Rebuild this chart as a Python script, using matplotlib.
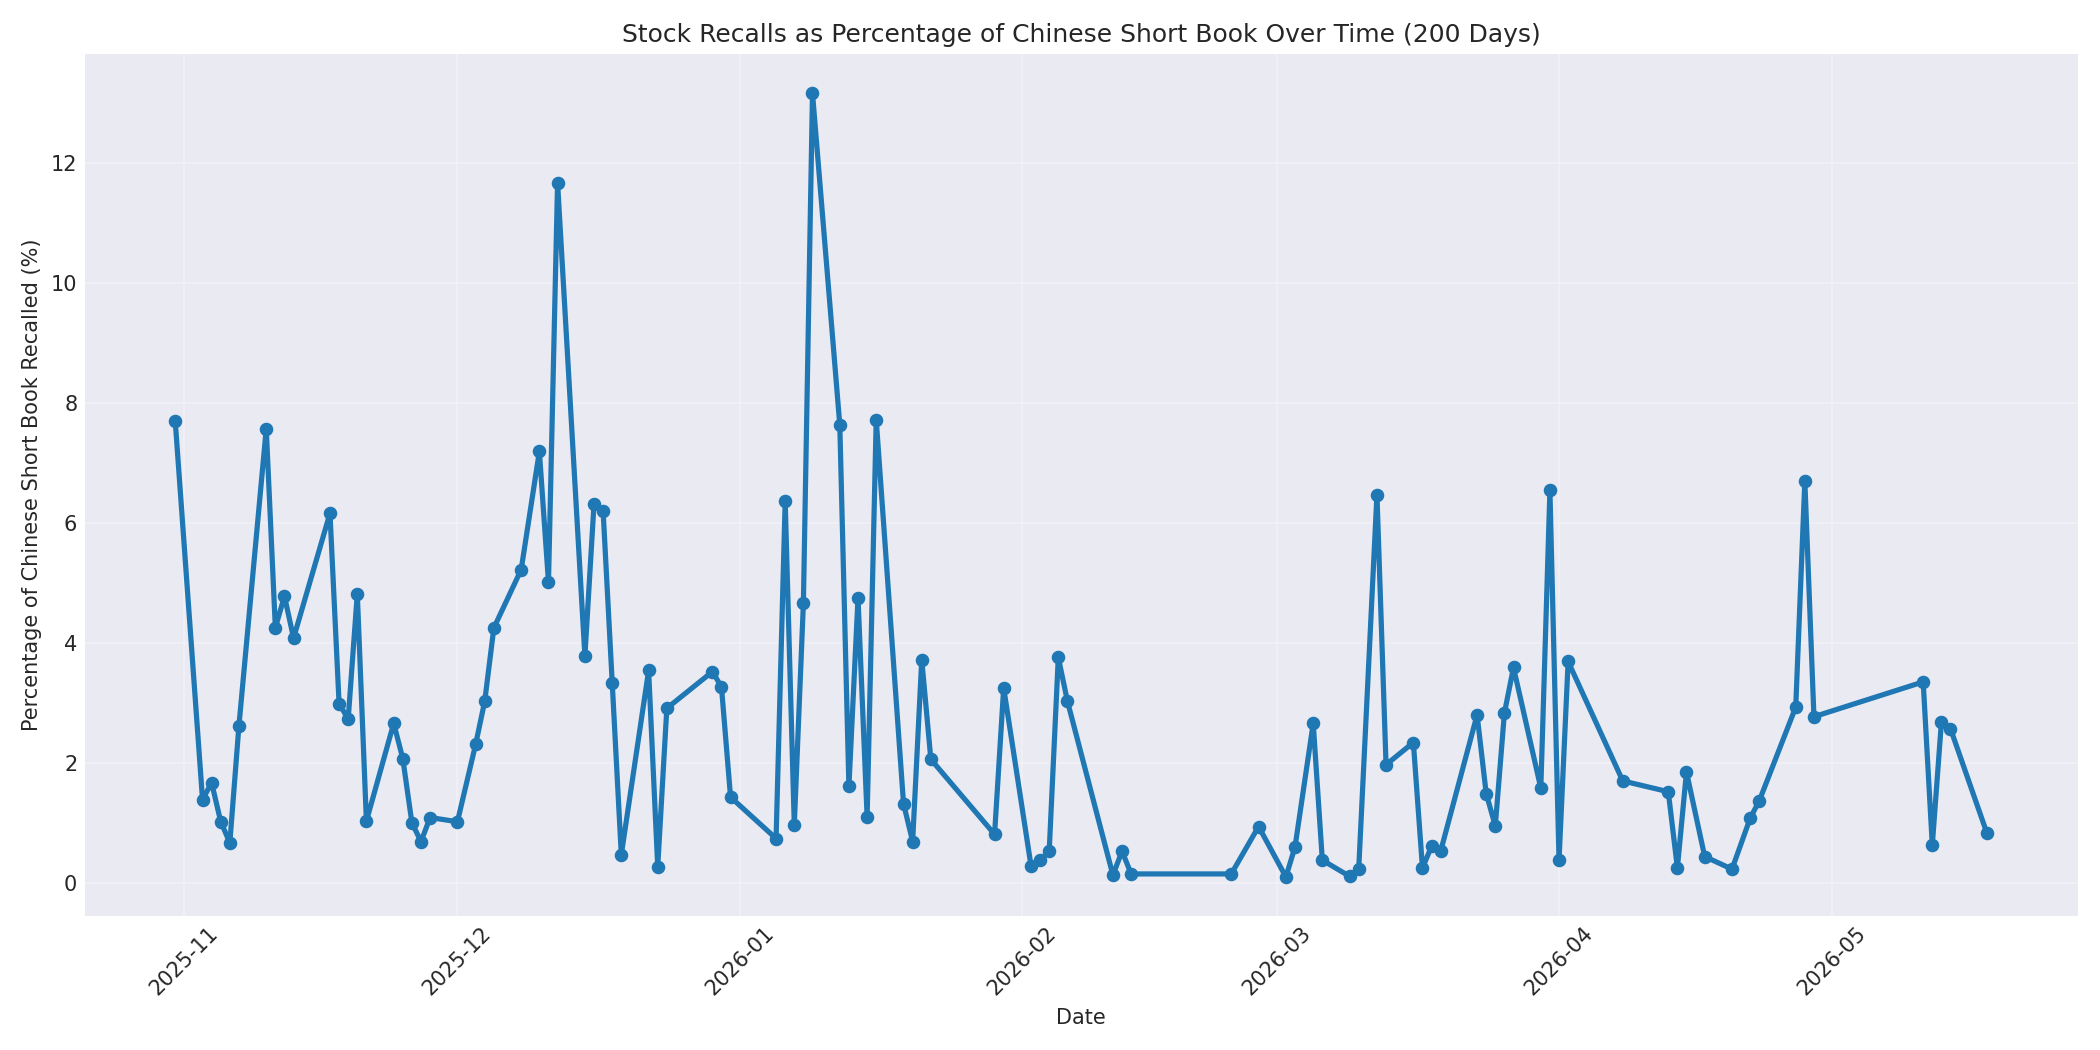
import numpy as np
import pandas as pd
import matplotlib
matplotlib.use('Agg')
import matplotlib.pyplot as plt
import matplotlib.dates as mdates

# Trading days and recall percentages
dates = [
    '2025-10-31', '2025-11-03', '2025-11-04', '2025-11-05', '2025-11-06', '2025-11-07',
    '2025-11-10', '2025-11-11', '2025-11-12', '2025-11-13', '2025-11-17', '2025-11-18',
    '2025-11-19', '2025-11-20', '2025-11-21', '2025-11-24', '2025-11-25', '2025-11-26',
    '2025-11-27', '2025-11-28', '2025-12-01', '2025-12-03', '2025-12-04', '2025-12-05',
    '2025-12-08', '2025-12-10', '2025-12-11', '2025-12-12', '2025-12-15', '2025-12-16',
    '2025-12-17', '2025-12-18', '2025-12-19', '2025-12-22', '2025-12-23', '2025-12-24',
    '2025-12-29', '2025-12-30', '2025-12-31', '2026-01-05', '2026-01-06', '2026-01-07',
    '2026-01-08', '2026-01-09', '2026-01-12', '2026-01-13', '2026-01-14', '2026-01-15',
    '2026-01-16', '2026-01-19', '2026-01-20', '2026-01-21', '2026-01-22', '2026-01-29',
    '2026-01-30', '2026-02-02', '2026-02-03', '2026-02-04', '2026-02-05', '2026-02-06',
    '2026-02-11', '2026-02-12', '2026-02-13', '2026-02-24', '2026-02-27', '2026-03-02',
    '2026-03-03', '2026-03-05', '2026-03-06', '2026-03-09', '2026-03-10', '2026-03-12',
    '2026-03-13', '2026-03-16', '2026-03-17', '2026-03-18', '2026-03-19', '2026-03-23',
    '2026-03-24', '2026-03-25', '2026-03-26', '2026-03-27', '2026-03-30', '2026-03-31',
    '2026-04-01', '2026-04-02', '2026-04-08', '2026-04-13', '2026-04-14', '2026-04-15',
    '2026-04-17', '2026-04-20', '2026-04-22', '2026-04-23', '2026-04-27', '2026-04-28',
    '2026-04-29', '2026-05-11', '2026-05-12', '2026-05-13', '2026-05-14', '2026-05-18',
]
recall_pct = [
    7.70, 1.39, 1.67, 1.02, 0.67, 2.62,
    7.57, 4.25, 4.78, 4.08, 6.16, 2.99,
    2.73, 4.82, 1.03, 2.66, 2.07, 1.00,
    0.69, 1.09, 1.02, 2.31, 3.03, 4.25,
    5.22, 7.19, 5.01, 11.67, 3.78, 6.31,
    6.20, 3.34, 0.47, 3.54, 0.27, 2.91,
    3.52, 3.27, 1.43, 0.74, 6.36, 0.96,
    4.66, 13.16, 7.63, 1.61, 4.75, 1.10,
    7.72, 1.32, 0.69, 3.72, 2.06, 0.81,
    3.25, 0.29, 0.38, 0.53, 3.76, 3.03,
    0.13, 0.53, 0.15, 0.15, 0.94, 0.10,
    0.60, 2.66, 0.38, 0.11, 0.24, 6.47,
    1.97, 2.34, 0.25, 0.61, 0.53, 2.80,
    1.49, 0.95, 2.83, 3.59, 1.58, 6.54,
    0.38, 3.69, 1.70, 1.52, 0.25, 1.85,
    0.44, 0.23, 1.08, 1.37, 2.93, 6.70,
    2.77, 3.35, 0.63, 2.68, 2.57, 0.83,
]

x = pd.to_datetime(dates)

plt.style.use('seaborn-v0_8-darkgrid')
plt.rcParams['font.family'] = ['DejaVu Sans']
fig, ax = plt.subplots(figsize=(14, 7), dpi=150)

ax.plot(x, recall_pct, color='#1f77b4', linewidth=2.5, marker='o', markersize=5.5)

ax.set_title('Stock Recalls as Percentage of Chinese Short Book Over Time (200 Days)', fontsize=12)
ax.set_xlabel('Date', fontsize=10)
ax.set_ylabel('Percentage of Chinese Short Book Recalled (%)', fontsize=10)
ax.xaxis.set_major_locator(mdates.MonthLocator())
ax.xaxis.set_major_formatter(mdates.DateFormatter('%Y-%m'))
ax.tick_params(axis='both', labelsize=10)
plt.setp(ax.get_xticklabels(), rotation=45)
ax.grid(True, alpha=0.3)

plt.tight_layout()
plt.savefig('out.png', dpi=150)
plt.close()
